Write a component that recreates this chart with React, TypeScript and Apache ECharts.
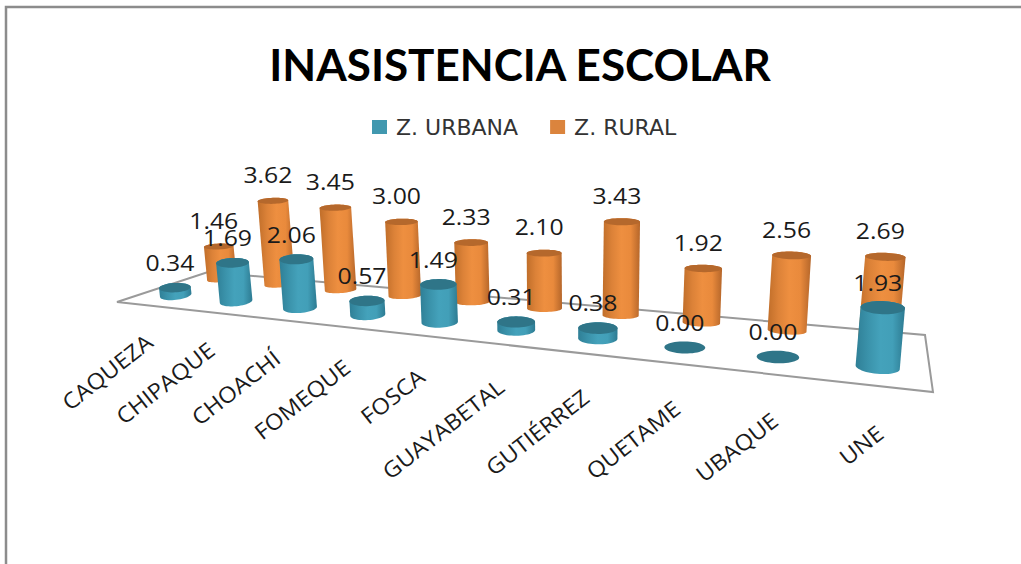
import React, { useEffect, useRef } from "react";
import * as echarts from "echarts";

const categories = ["CAQUEZA", "CHIPAQUE", "CHOACHÍ", "FOMEQUE", "FOSCA", "GUAYABETAL", "GUTIÉRREZ", "QUETAME", "UBAQUE", "UNE"];
const urbana = [0.34, 1.69, 2.06, 0.57, 1.49, 0.31, 0.38, 0.0, 0.0, 1.93];
const rural = [1.46, 3.62, 3.45, 3.0, 2.33, 2.1, 3.43, 1.92, 2.56, 2.69];

// Perspective floor: corners of the chart's floor (front-left, front-right, back-right, back-left)
const P0 = [117, 302], P1 = [933, 392], P2 = [925, 335], P3 = [208, 272];
const dx1 = P1[0] - P2[0], dx2 = P3[0] - P2[0], dx3 = P0[0] - P1[0] + P2[0] - P3[0];
const dy1 = P1[1] - P2[1], dy2 = P3[1] - P2[1], dy3 = P0[1] - P1[1] + P2[1] - P3[1];
const det = dx1 * dy2 - dx2 * dy1;
const G = (dx3 * dy2 - dx2 * dy3) / det;
const H = (dx1 * dy3 - dx3 * dy1) / det;
const A = P1[0] - P0[0] + G * P1[0], B = P3[0] - P0[0] + H * P3[0], C = P0[0];
const D = P1[1] - P0[1] + G * P1[1], E = P3[1] - P0[1] + H * P3[1], F = P0[1];
const VANISH_X = 570, VANISH_D = 3600, RX = 16.2, TILT = 0.0003;

function project(uRaw: number, v: number) {
  const u = uRaw + 0.06 * uRaw * (1 - uRaw);
  const den = G * u + H * v + 1;
  return { x: (A * u + B * v + C) / den, y: (D * u + E * v + F) / den, s: 1 / den };
}

function ellipsePts(cx: number, cy: number, rx: number, ry: number, tilt: number) {
  const pts: number[][] = [];
  const c = Math.cos(tilt), sn = Math.sin(tilt);
  for (let k = 0; k < 48; k++) {
    const a = (k / 48) * Math.PI * 2;
    const ex = rx * Math.cos(a), ey = ry * Math.sin(a);
    pts.push([cx + ex * c - ey * sn, cy + ex * sn + ey * c]);
  }
  return pts;
}

function grad(stops: string[]) {
  return new echarts.graphic.LinearGradient(0, 0, 1, 0, stops.map((color, i) => ({ offset: i / (stops.length - 1), color })));
}

function cylinder(values: number[], v: number, ryK: number, rowScale: number, labelDy: number, stops: string[], cap: string, z2: number) {
  return (params: any, api: any) => {
    const i = params.dataIndex;
    const cs = params.coordSys;
    const zero = api.coord([i, 0]);
    const top = api.coord([i, values[i]]);
    const u = (zero[0] - cs.x) / cs.width;
    const base = project(u, v);
    const h = (zero[1] - top[1]) * base.s * rowScale;
    const rx = RX * base.s, ry = ryK * base.s;
    const tilt = (base.x - VANISH_X) * TILT;
    const tx = base.x + ((base.x - VANISH_X) * h) / VANISH_D;
    const ty = base.y - h;
    const basePts = ellipsePts(base.x, base.y, rx, ry, tilt);
    const topPts = ellipsePts(tx, ty, rx, ry, tilt * 0.4);
    // lower half of the base, upper half of the top
    const body = [...basePts.slice(0, 25), ...topPts.slice(24), topPts[0]];
    const children: any[] = [];
    if (h > 0) {
      children.push({ type: "polygon", z2, shape: { points: body }, style: { fill: grad(stops) } });
    }
    children.push({ type: "polygon", z2: z2 + 1, shape: { points: topPts }, style: { fill: cap } });
    children.push({
      type: "text",
      z2: 100,
      x: tx - 5,
      y: ty + labelDy,
      scaleX: 1.18,
      style: {
        text: values[i].toFixed(2),
        fill: "#1a1a1a",
        font: '21px "Open Sans"',
        align: "center",
        verticalAlign: "middle",
      },
    });
    return { type: "group", children };
  };
}

function categoryLabel(params: any, api: any) {
  const i = params.dataIndex;
  const cs = params.coordSys;
  const zero = api.coord([i, 0]);
  const u = (zero[0] - cs.x) / cs.width;
  const p = project(u, 0);
  return {
    type: "text",
    x: p.x + 3,
    y: p.y + 33 + 12 * u,
    rotation: (38 * Math.PI) / 180,
    scaleX: 1.08,
    style: {
      text: categories[i],
      fill: "#1a1a1a",
      font: '22px "Open Sans"',
      align: "right",
      verticalAlign: "middle",
    },
  };
}

export default function App() {
  const ref = useRef<HTMLDivElement>(null);
  useEffect(() => {
    document.body.style.margin = "0";
    const chart = echarts.init(ref.current!, undefined, { renderer: "svg" });
    chart.setOption({
      animation: false,
      backgroundColor: "#ffffff",
      title: {
        text: "INASISTENCIA ESCOLAR",
        left: 515,
        top: 37,
        textAlign: "center",
        textStyle: { fontFamily: "Lato", fontWeight: "bold", fontSize: 44, color: "#000000" },
      },
      legend: {
        data: ["Z. URBANA", "Z. RURAL"],
        left: 367,
        top: 111,
        icon: "rect",
        itemWidth: 15,
        itemHeight: 14,
        itemGap: 32,
        textStyle: { fontFamily: "DejaVu Sans", fontSize: 22, color: "#333333", padding: [0, 0, 0, 4] },
      },
      grid: { left: 100, width: 800, top: 100, height: 96 },
      xAxis: { type: "category", data: categories, show: false },
      yAxis: { type: "value", min: 0, max: 4, interval: 1, show: false },
      graphic: [
        {
          type: "polyline",
          z: 0,
          silent: true,
          shape: { points: [[6, 564], [6, 7], [1021, 7]] },
          style: { stroke: "#8c8c8c", lineWidth: 2.5, fill: "none" },
        },
        {
          type: "polygon",
          z: 0,
          silent: true,
          shape: { points: [P0, P1, P2, P3] },
          style: { stroke: "#9a9a9a", lineWidth: 2, fill: "none" },
        },
      ],
      series: [
        {
          name: "Z. RURAL",
          type: "custom",
          z: 3,
          clip: false,
          itemStyle: { color: "#DB843D" },
          data: rural.map((val, i) => [i, val]),
          encode: { x: 0, y: 1 },
          renderItem: cylinder(rural, 0.83, 3.2, 1.02, -26, ["#c06e2a", "#dc8238", "#ee8f40", "#e98a3c", "#b5662a"], "#b5682c", 5),
        },
        {
          name: "Z. URBANA",
          type: "custom",
          z: 3,
          clip: false,
          itemStyle: { color: "#4198AF" },
          data: urbana.map((val, i) => [i, val]),
          encode: { x: 0, y: 1 },
          renderItem: cylinder(urbana, 0.3, 4.8, 0.94, -25, ["#2f7f96", "#3a92aa", "#44a2bb", "#429fb8", "#2d7b92"], "#2f7588", 10),
        },
        {
          name: "etiquetas",
          type: "custom",
          z: 3,
          clip: false,
          silent: true,
          data: categories.map((_, i) => [i, 0]),
          encode: { x: 0, y: 1 },
          renderItem: categoryLabel,
        },
      ],
    });
    return () => chart.dispose();
  }, []);
  return <div ref={ref} style={{ width: 1021, height: 564 }} />;
}
